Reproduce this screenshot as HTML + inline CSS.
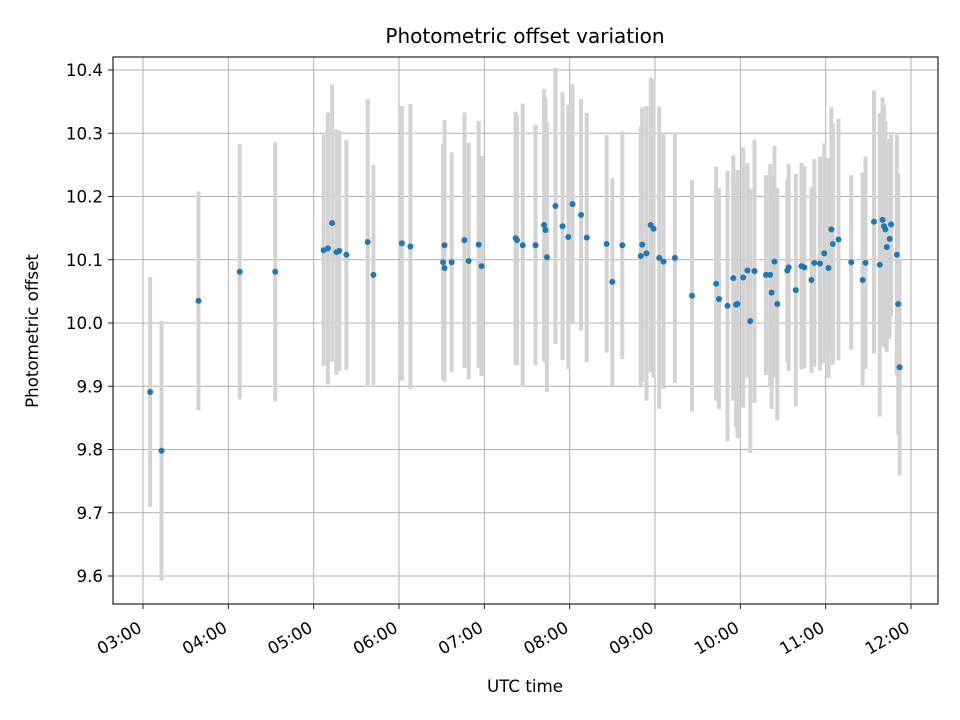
<!DOCTYPE html>
<html><head><meta charset="utf-8"><style>
body{margin:0;background:#fff}
svg{display:block;font-family:"DejaVu Sans","Liberation Sans",sans-serif}
</style></head><body>
<svg id="chart" width="960" height="720" viewBox="0 0 960 720" xmlns="http://www.w3.org/2000/svg">
<rect width="960" height="720" fill="#fff"/>
<g id="grid"></g>
<g id="errs"></g>
<g id="pts"></g>
<rect x="113" y="57" width="825" height="547" fill="none" stroke="#222" stroke-width="1.2"/>
<g id="ticks"></g>
<text x="525" y="43" font-size="20" text-anchor="middle">Photometric offset variation</text>
<text transform="translate(38,331) rotate(-90)" font-size="16.7" text-anchor="middle">Photometric offset</text>
<text x="525" y="692" font-size="16.7" text-anchor="middle">UTC time</text>
</svg>
<script>
const times=["03:05","03:13","03:39","04:08","04:33","05:07","05:10","05:13","05:16","05:18","05:23","05:38","05:42","06:02","06:08","06:31","06:32","06:32","06:37","06:46","06:49","06:56","06:58","07:22","07:23","07:27","07:36","07:42","07:43","07:44","07:50","07:55","07:59","08:02","08:08","08:12","08:26","08:30","08:37","08:50","08:51","08:54","08:57","08:59","09:03","09:06","09:14","09:26","09:43","09:45","09:51","09:55","09:57","09:58","10:02","10:05","10:07","10:10","10:18","10:21","10:22","10:24","10:26","10:33","10:34","10:39","10:43","10:45","10:50","10:52","10:56","10:59","11:02","11:04","11:05","11:09","11:18","11:26","11:28","11:34","11:38","11:40","11:41","11:42","11:43","11:45","11:46","11:50","11:51","11:52"];
const values=[9.891,9.798,10.035,10.081,10.081,10.115,10.118,10.158,10.112,10.114,10.108,10.128,10.076,10.126,10.121,10.096,10.123,10.087,10.096,10.131,10.098,10.124,10.09,10.134,10.131,10.123,10.123,10.155,10.147,10.104,10.185,10.153,10.136,10.188,10.171,10.135,10.125,10.065,10.123,10.106,10.124,10.11,10.155,10.149,10.103,10.097,10.103,10.043,10.062,10.038,10.027,10.071,10.029,10.03,10.072,10.083,10.003,10.082,10.076,10.076,10.048,10.097,10.03,10.083,10.088,10.052,10.09,10.088,10.068,10.095,10.094,10.11,10.087,10.148,10.125,10.132,10.096,10.068,10.095,10.16,10.092,10.163,10.153,10.148,10.12,10.133,10.156,10.108,10.03,9.93];
const errors=[0.182,0.205,0.173,0.202,0.205,0.183,0.215,0.219,0.194,0.19,0.182,0.226,0.174,0.217,0.225,0.187,0.198,0.18,0.174,0.202,0.187,0.195,0.174,0.2,0.198,0.224,0.19,0.215,0.209,0.213,0.218,0.212,0.209,0.19,0.183,0.197,0.172,0.164,0.18,0.205,0.217,0.233,0.233,0.236,0.239,0.201,0.198,0.183,0.185,0.175,0.214,0.194,0.194,0.212,0.206,0.17,0.209,0.208,0.158,0.175,0.184,0.183,0.184,0.144,0.164,0.184,0.163,0.16,0.147,0.164,0.169,0.174,0.174,0.193,0.191,0.191,0.138,0.17,0.168,0.208,0.24,0.194,0.191,0.172,0.166,0.158,0.146,0.19,0.206,0.171];
const yTicks=["9.6","9.7","9.8","9.9","10.0","10.1","10.2","10.3","10.4"];
const xTicks=["03:00","04:00","05:00","06:00","07:00","08:00","09:00","10:00","11:00","12:00"];

const NS="http://www.w3.org/2000/svg";
function hrs(s){const p=s.split(":");return +p[0]+(+p[1])/60;}
function xs(h){return 143+(h-3)*(911-143)/9;}
function ys(v){return 576-(v-9.6)*(576-70)/0.8;}
function mk(tag,attrs,parent){const e=document.createElementNS(NS,tag);for(const k in attrs)e.setAttribute(k,attrs[k]);parent.appendChild(e);return e;}
const grid=document.getElementById("grid"),errs=document.getElementById("errs"),pts=document.getElementById("pts"),ticks=document.getElementById("ticks");
yTicks.forEach(t=>{const y=ys(+t);
 const g=mk("line",{x1:113,x2:938,y1:y,y2:y,stroke:"#b0b0b0","stroke-width":1},grid);
 
 
 const tk=mk("line",{x1:108,x2:113,y1:y,y2:y,stroke:"#222","stroke-width":1},ticks);
 
 
 const tx=mk("text",{x:103,y:y+6,"font-size":16.7,"text-anchor":"end"},ticks);tx.textContent=t;
 
 
});
xTicks.forEach(t=>{const x=xs(hrs(t));
 const g=mk("line",{x1:x,x2:x,y1:57,y2:604,stroke:"#b0b0b0","stroke-width":1},grid);
 
 
 const tk=mk("line",{x1:x,x2:x,y1:604,y2:609,stroke:"#222","stroke-width":1},ticks);
 
 
 const tx=mk("text",{transform:`translate(${x},${631}) rotate(-30)`,"font-size":16.7,"text-anchor":"end"},ticks);tx.textContent=t;
 
 
});
times.forEach((t,i)=>{const x=xs(hrs(t));
 const l=mk("line",{x1:x,x2:x,y1:ys(values[i]+errors[i]),y2:ys(values[i]-errors[i]),stroke:"#d3d3d3","stroke-width":4},errs);
 
 
 const c=mk("circle",{cx:x,cy:ys(values[i]),r:3,fill:"#1f77b4"},pts);
 
 
});
</script>
</body></html>
